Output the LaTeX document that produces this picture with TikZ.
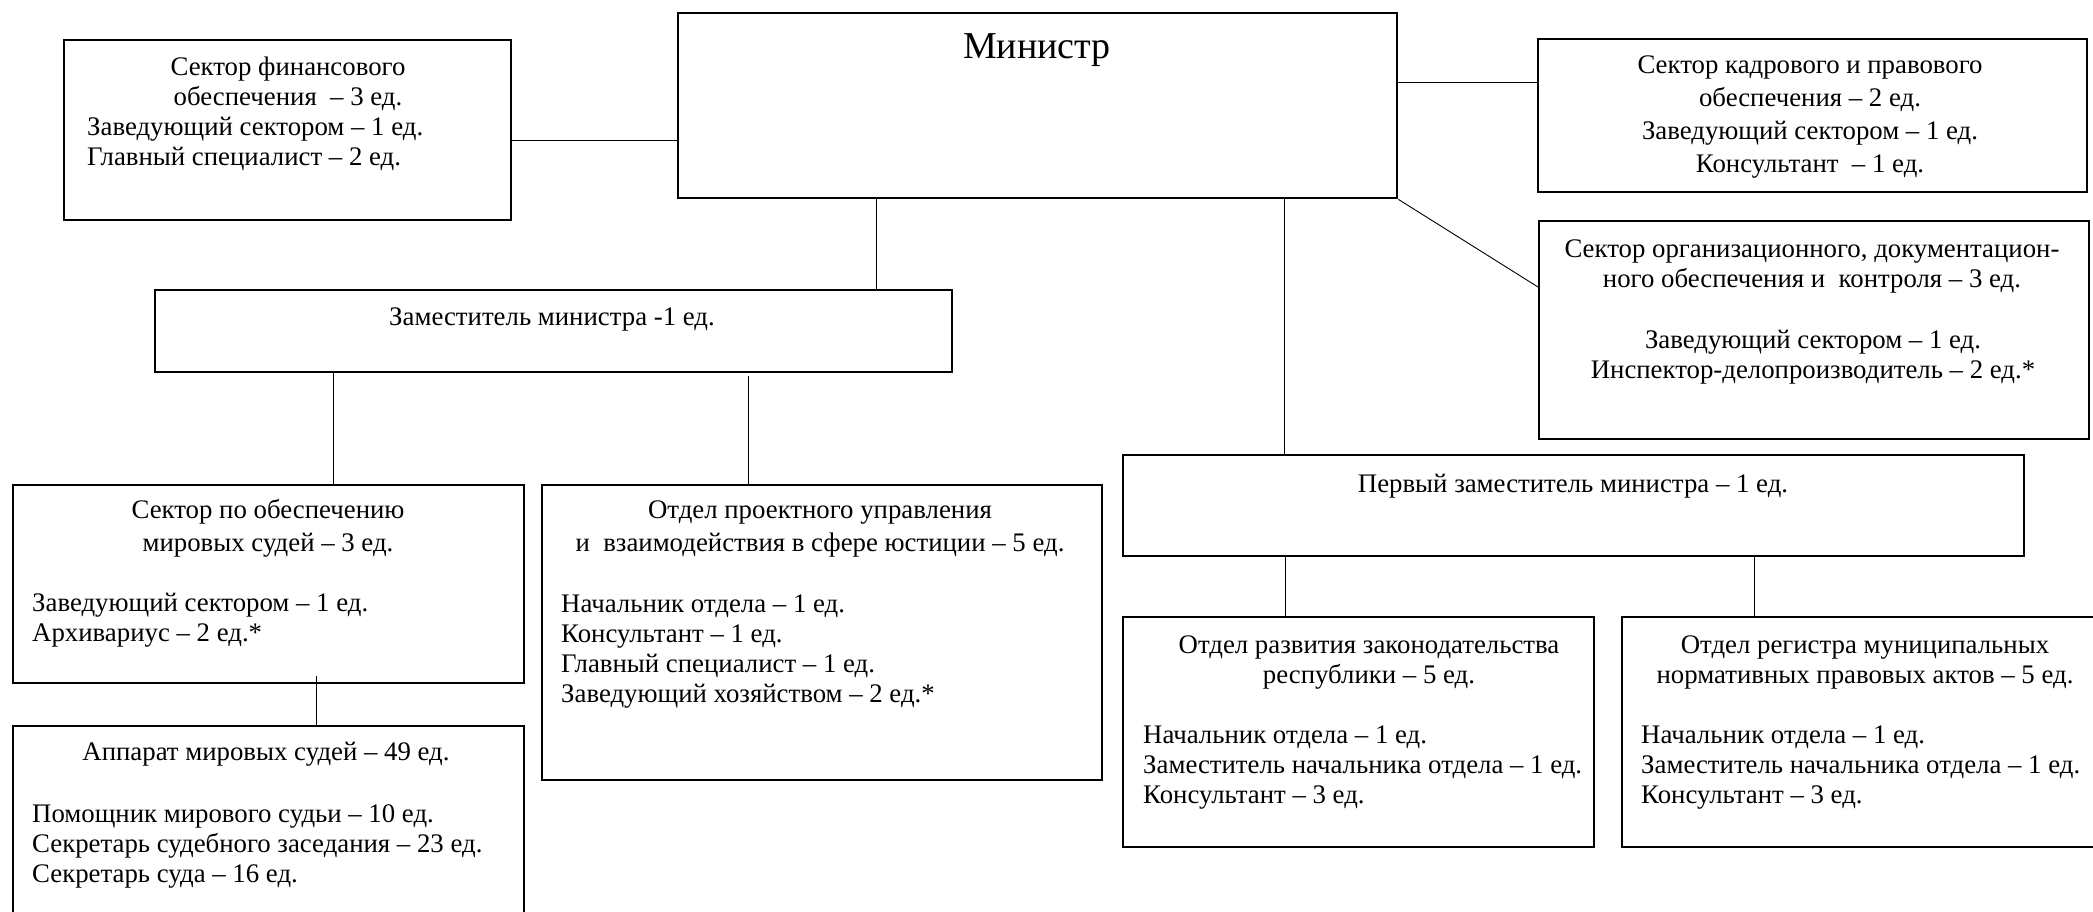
\documentclass[tikz,border=0pt]{standalone}
\usepackage{fontspec}
\setmainfont{Liberation Serif}

\begin{document}
\begin{tikzpicture}[x=1pt,y=-1pt,
    unitbox/.style={draw,line width=2.4pt,anchor=north west,inner sep=0pt},
    link/.style={line width=0.9pt},
    txt/.style={inner sep=0pt,font=\fontsize{26.8}{30}\selectfont},
    head/.style={txt,align=center,anchor=base},
    list/.style={txt,align=left,anchor=base west}]

    \useasboundingbox (0,0) rectangle (2093,911);
    \clip (0,0) rectangle (2093,911);

    % boxes
    \node[unitbox,minimum width=719pt,minimum height=185pt] (minister) at (677,12) {};
    \node[unitbox,minimum width=447pt,minimum height=180pt] (finsec) at (63,39) {};
    \node[unitbox,minimum width=549pt,minimum height=153pt] (kadrsec) at (1537,38) {};
    \node[unitbox,minimum width=550pt,minimum height=218pt] (orgsec) at (1538,220) {};
    \node[unitbox,minimum width=797pt,minimum height=82pt] (zam) at (154,289) {};
    \node[unitbox,minimum width=901pt,minimum height=101pt] (firstzam) at (1122,454) {};
    \node[unitbox,minimum width=511pt,minimum height=198pt] (mirsec) at (12,484) {};
    \node[unitbox,minimum width=560pt,minimum height=295pt] (projdep) at (541,484) {};
    \node[unitbox,minimum width=511pt,minimum height=240pt] (apparat) at (12,725) {};
    \node[unitbox,minimum width=471pt,minimum height=230pt] (zakdep) at (1122,616) {};
    \node[unitbox,minimum width=520pt,minimum height=230pt] (regdep) at (1621,616) {};

    % texts (multi-line nodes sit on their last baseline)
    \node[head,font=\fontsize{38}{44}\selectfont] (ministerT) at (1037,58) {Министр};
    \node[head] (finhead) at (288,105) {Сектор финансового\\обеспечения \ – 3 ед.};
    \node[list] (finlist) at (87,165) {Заведующий сектором – 1 ед.\\Главный специалист – 2 ед.};
    \node[head,font=\fontsize{26.8}{33}\selectfont] (kadrhead) at (1810,172)
        {Сектор кадрового и правового\\обеспечения – 2 ед.\\Заведующий сектором – 1 ед.\\Консультант \ – 1 ед.};
    \node[head] (orghead) at (1812,287) {Сектор организационного, документацион-\\ного обеспечения и \ контроля – 3 ед.};
    \node[head] (orglist) at (1813,378) {Заведующий сектором – 1 ед.\\Инспектор-делопроизводитель – 2 ед.*};
    \node[head] (zamT) at (552,325) {Заместитель министра -1 ед.};
    \node[head] (firstT) at (1573,492) {Первый заместитель министра – 1 ед.};
    \node[head,font=\fontsize{26.8}{33}\selectfont] (mirhead) at (268,551) {Сектор по обеспечению\\мировых судей – 3 ед.};
    \node[list] (mirlist) at (32,641) {Заведующий сектором – 1 ед.\\Архивариус – 2 ед.*};
    \node[head,font=\fontsize{26.8}{33}\selectfont] (projhead) at (820,551)
        {Отдел проектного управления\\и \ взаимодействия в сфере юстиции – 5 ед.};
    \node[list] (projlist) at (561,702)
        {Начальник отдела – 1 ед.\\Консультант – 1 ед.\\Главный специалист – 1 ед.\\Заведующий хозяйством – 2 ед.*};
    \node[head] (apphead) at (266,760) {Аппарат мировых судей – 49 ед.};
    \node[list] (applist) at (32,882)
        {Помощник мирового судьи – 10 ед.\\Секретарь судебного заседания – 23 ед.\\Секретарь суда – 16 ед.};
    \node[head] (zakhead) at (1369,683) {Отдел развития законодательства\\республики – 5 ед.};
    \node[list] (zaklist) at (1143,803)
        {Начальник отдела – 1 ед.\\Заместитель начальника отдела – 1 ед.\\Консультант – 3 ед.};
    \node[head] (reghead) at (1865,683) {Отдел регистра муниципальных\\нормативных правовых актов – 5 ед.};
    \node[list] (reglist) at (1641,803)
        {Начальник отдела – 1 ед.\\Заместитель начальника отдела – 1 ед.\\Консультант – 3 ед.};

    % links
    \draw[link] (finsec.east |- 0,140) -- (minister.west |- 0,140);
    \draw[link] (minister.east |- 0,82) -- (kadrsec.west |- 0,82);
    \draw[link] (minister.south east) -- (orgsec.west |- 0,287);
    \draw[link] (minister.south -| 876,0) -- (zam.north -| 876,0);
    \draw[link] (minister.south -| 1284,0) -- (firstzam.north -| 1284,0);
    \draw[link] (zam.south -| 333,0) -- (mirsec.north -| 333,0);
    \coordinate (projtop) at (748,376);
    \draw[link] (projtop) -- (projtop |- projdep.north);
    \coordinate (apptop) at (316,676);
    \draw[link] (apptop) -- (apptop |- apparat.north);
    \draw[link] (firstzam.south -| 1285,0) -- (zakdep.north -| 1285,0);
    \draw[link] (firstzam.south -| 1754,0) -- (regdep.north -| 1754,0);
\end{tikzpicture}
\end{document}
